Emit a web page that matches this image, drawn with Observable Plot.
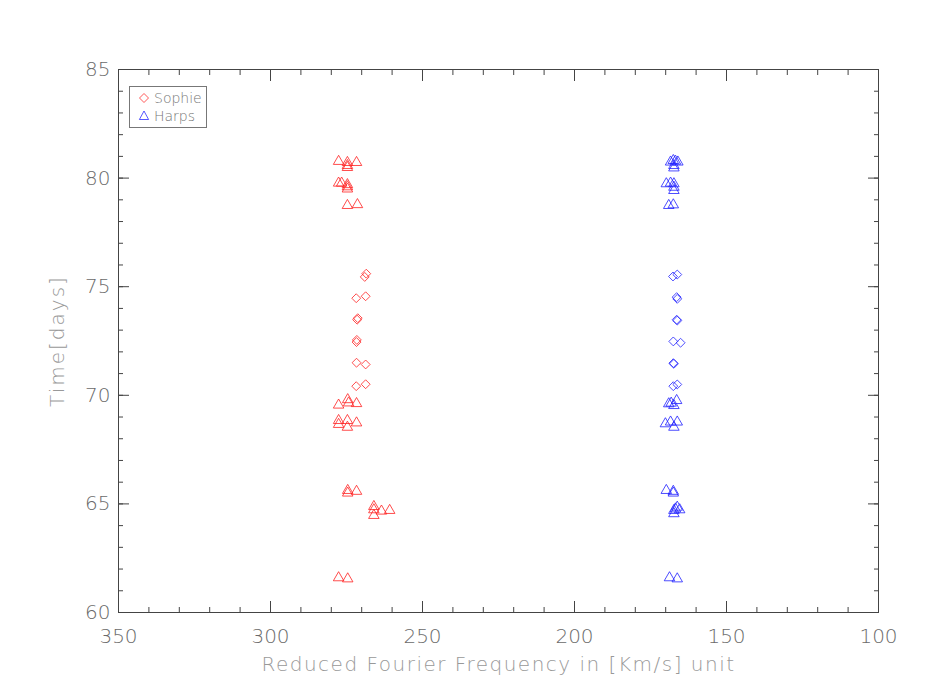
<!DOCTYPE html>
<html>
<head>
<meta charset="utf-8">
<script src="https://cdn.jsdelivr.net/npm/d3@7"></script>
<script src="https://cdn.jsdelivr.net/npm/@observablehq/plot@0.6"></script>
<style>
  html, body { margin: 0; padding: 0; background: #fff; }
  #wrap { position: relative; width: 950px; height: 700px; font-family: "DejaVu Sans", sans-serif; font-weight: 200; }
  #legend { position: absolute; left: 129px; top: 86px; width: 78px; height: 42px; border: 1px solid #777; background: #fff; box-sizing: border-box; }
  #legend .row { position: absolute; left: 8px; display: flex; align-items: center; font-size: 14px; color: #777; }
  #legend svg { margin-right: 4px; }
</style>
</head>
<body>
<div id="wrap"></div>
<script>
// ---- data ----
const redTriangleFreq = [277.6,274.7,274.7,274.7,271.7, 277.6,276.6,274.7,274.7,274.7, 274.7,271.4, 277.6,274.6,274.3,271.7, 277.6,277.6,274.7,274.7,271.7, 274.6,271.7,274.6, 266.0,266.0,266.0,263.5,260.8, 277.6,274.6];
const redTriangleTime = [80.77,80.72,80.58,80.49,80.72, 79.77,79.77,79.7,79.6,79.5, 78.74,78.78, 69.55,69.8,69.65,69.62, 68.84,68.66,68.84,68.53,68.73, 65.62,65.58,65.5, 64.88,64.73,64.47,64.67,64.7, 61.6,61.55];
const redDiamondFreq = [269.0,268.5,271.8,268.7,271.5,271.3,271.7,271.6,271.7,268.7,271.8,268.7];
const redDiamondTime = [75.45,75.6,74.47,74.56,73.48,73.55,72.45,72.55,71.5,71.42,70.42,70.51];
const blueTriangleFreq = [168.4,167.5,166.8,166.0,167.3,167.3, 169.8,168.4,167.3,167.3,167.3, 169.0,167.5, 169.0,168.2,166.4,167.3, 170.1,168.4,167.3,166.2, 169.8,167.5,167.5, 167.3,166.8,166.2,165.4,167.3, 168.75,166.2];
const blueTriangleTime = [80.74,80.81,80.78,80.74,80.58,80.47, 79.74,79.77,79.74,79.58,79.43, 78.74,78.77, 69.61,69.64,69.76,69.53, 68.69,68.77,68.53,68.77, 65.62,65.58,65.5, 64.7,64.77,64.85,64.73,64.55, 61.6,61.55];
const blueDiamondFreq = [167.6,166.2,166.4,166.2,166.4,166.2,167.5,165.1,167.5,167.3,167.5,166.2];
const blueDiamondTime = [75.47,75.56,74.52,74.44,73.48,73.44,72.48,72.42,71.48,71.45,70.42,70.5];

const xMajorTicks = [350, 300, 250, 200, 150, 100];
const xMinorTicks = d3.range(100, 351, 10);
const yMajorTicks = [60, 65, 70, 75, 80, 85];
const yMinorTicks = d3.range(60, 86, 1);
const xLabel = "Reduced Fourier Frequency in [Km/s] unit";
const yLabel = "Time[days]";
const legendItems = ["Sophie", "Harps"];

// ---- build table ----
function rows(fx, ty, color, symbol) {
  return fx.map((f, i) => ({freq: f, time: ty[i], color, symbol}));
}
const points = [
  ...rows(redTriangleFreq, redTriangleTime, "red", "triangle"),
  ...rows(redDiamondFreq, redDiamondTime, "red", "diamond"),
  ...rows(blueTriangleFreq, blueTriangleTime, "blue", "triangle"),
  ...rows(blueDiamondFreq, blueDiamondTime, "blue", "diamond")
];
const colorOf = {red: "#ff2020", blue: "#2020ff"};
const axisColor = "#444";
const tickLabelColor = "#6a6a6a";
const titleColor = "#999";
const font = "\"DejaVu Sans\", sans-serif";

const chart = Plot.plot({
  width: 950,
  height: 700,
  marginLeft: 118,
  marginRight: 72,
  marginTop: 69,
  marginBottom: 88,
  style: {fontFamily: font, fontSize: "20px", fontWeight: 200, color: axisColor, background: "white", overflow: "visible"},
  x: {domain: [350, 100]},
  y: {domain: [60, 85]},
  marks: [
    // minor ticks inward on all sides
    Plot.axisX(xMinorTicks, {anchor: "bottom", tickSize: -5, fill: "none", label: null, stroke: axisColor}),
    Plot.axisX(xMinorTicks, {anchor: "top", tickSize: -5, fill: "none", label: null, stroke: axisColor}),
    Plot.axisY(yMinorTicks, {anchor: "left", tickSize: -5, fill: "none", label: null, stroke: axisColor}),
    Plot.axisY(yMinorTicks, {anchor: "right", tickSize: -5, fill: "none", label: null, stroke: axisColor}),
    // major ticks inward
    Plot.axisX(xMajorTicks, {anchor: "bottom", tickSize: -11, fill: "none", label: null, stroke: axisColor}),
    Plot.axisX(xMajorTicks, {anchor: "top", tickSize: -11, fill: "none", label: null, stroke: axisColor}),
    Plot.axisY(yMajorTicks, {anchor: "left", tickSize: -11, fill: "none", label: null, stroke: axisColor}),
    Plot.axisY(yMajorTicks, {anchor: "right", tickSize: -11, fill: "none", label: null, stroke: axisColor}),
    // tick labels
    Plot.axisX(xMajorTicks, {anchor: "bottom", tickSize: 0, tickPadding: 16, label: null, fill: tickLabelColor, fontSize: 20, tickFormat: d => String(d)}),
    Plot.axisY(yMajorTicks, {anchor: "left", tickSize: 0, tickPadding: 8, label: null, fill: tickLabelColor, fontSize: 20, tickFormat: d => String(d)}),
    Plot.frame({stroke: axisColor, strokeWidth: 1}),
    // axis titles
    Plot.text([xLabel], {frameAnchor: "bottom", lineAnchor: "middle", textAnchor: "middle", dy: 52, text: d => d, fill: titleColor, fontSize: 20, className: "xtitle"}),
    Plot.text([yLabel], {frameAnchor: "left", lineAnchor: "middle", textAnchor: "middle", dx: -61, rotate: -90, text: d => d, fill: titleColor, fontSize: 20, className: "ytitle"}),
    // data
    Plot.dot(points.filter(d => d.symbol === "triangle"), {
      x: "freq", y: "time", symbol: "triangle", r: 3.9,
      stroke: d => colorOf[d.color], strokeWidth: 1, strokeOpacity: 0.8, fill: "none"
    }),
    Plot.dot(points.filter(d => d.symbol === "diamond"), {
      x: "freq", y: "time", symbol: "diamond2", r: 4.0,
      stroke: d => colorOf[d.color], strokeWidth: 1, strokeOpacity: 0.8, fill: "none"
    })
  ]
});

// widen axis titles to match the reference's broad, thin lettering
d3.select(chart).selectAll(".xtitle text").style("letter-spacing", "1.5px");
d3.select(chart).selectAll(".ytitle text").style("letter-spacing", "2px");

const wrap = document.getElementById("wrap");
wrap.appendChild(chart);

// legend (inside the plot frame, top-left)
const legend = document.createElement("div");
legend.id = "legend";
const legendSymbols = [
  '<svg width="12" height="12" viewBox="-6 -6 12 12"><path d="M0,-4.5L4.5,0L0,4.5L-4.5,0Z" fill="none" stroke="#ff2020" stroke-opacity="0.75"/></svg>',
  '<svg width="12" height="12" viewBox="-6 -6 12 12"><path d="M0,-5L4.6,3.5L-4.6,3.5Z" fill="none" stroke="#2020ff" stroke-opacity="0.75"/></svg>'
];
legendItems.forEach((name, i) => {
  const row = document.createElement("div");
  row.className = "row";
  row.style.top = (3 + i * 18) + "px";
  row.innerHTML = legendSymbols[i] + "<span>" + name + "</span>";
  legend.appendChild(row);
});
wrap.appendChild(legend);
</script>
</body>
</html>
